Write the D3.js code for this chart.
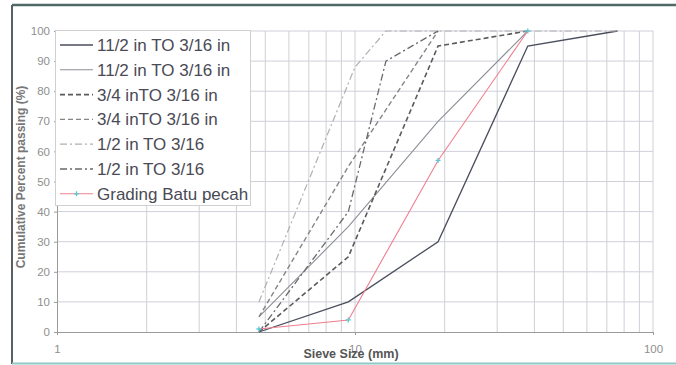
<!DOCTYPE html>
<html><head><meta charset="utf-8">
<script src="https://cdn.jsdelivr.net/npm/d3@7"></script>
<style>html,body{margin:0;padding:0;background:#fff;}svg{display:block;}</style>
</head><body>
<svg id="c" width="676" height="365"></svg>
<script>
// ---- data ----
const seriesNames = ["11/2 in TO 3/16 in","11/2 in TO 3/16 in","3/4 inTO 3/16 in","3/4 inTO 3/16 in","1/2 in TO 3/16","1/2 in TO 3/16","Grading Batu pecah"];
const s1Size = [4.76, 9.5, 19, 38, 76];   const s1Pass = [0, 10, 30, 95, 100];
const s2Size = [4.76, 9.5, 19, 38];       const s2Pass = [5, 35, 70, 100];
const s3Size = [4.76, 9.5, 19, 38];       const s3Pass = [0, 25, 95, 100];
const s4Size = [4.76, 9.5, 19];           const s4Pass = [5, 55, 100];
const s5Size = [4.76, 10, 12.7, 38, 76];  const s5Pass = [10, 88, 100, 100, 100];
const s6Size = [4.76, 9.5, 12.7, 19];     const s6Pass = [0, 40, 90, 100];
const s7Size = [4.76, 9.5, 19, 38];       const s7Pass = [1, 4, 57, 100];
const yTicks = [0,10,20,30,40,50,60,70,80,90,100];
const xTicks = [1,10,100];

const sizes = [s1Size,s2Size,s3Size,s4Size,s5Size,s6Size,s7Size];
const passes = [s1Pass,s2Pass,s3Pass,s4Pass,s5Pass,s6Pass,s7Pass];
const styles = [
  {c:"#4a4d5c", w:1.3, d:null},
  {c:"#8c8f96", w:1.1, d:null},
  {c:"#5a5a5a", w:1.6, d:"5,3"},
  {c:"#858585", w:1.4, d:"5,3"},
  {c:"#b0b0b0", w:1.2, d:"7,3,2,3"},
  {c:"#6a6a6a", w:1.3, d:"7,3,2,3"},
  {c:"#f07f8f", w:1.1, d:null}
];
const FONT = "Liberation Sans, Arial, sans-serif";

const svg = d3.select("#c");
const x = d3.scaleLog().domain([1,100]).range([57,653]);
const y = d3.scaleLinear().domain([0,100]).range([332,31]);

// frame
svg.append("line").attr("x1",12).attr("x2",676).attr("y1",5).attr("y2",5).attr("stroke","#4f6a66").attr("stroke-width",2.5);
svg.append("line").attr("x1",12).attr("x2",12).attr("y1",5).attr("y2",364).attr("stroke","#5a5f66").attr("stroke-width",2);
svg.append("line").attr("x1",12).attr("x2",676).attr("y1",363.5).attr("y2",363.5).attr("stroke","#8fc8c4").attr("stroke-width",2);

// grid
const minor = [];
[1,10].forEach(dec=>{for(let k=2;k<=9;k++) minor.push(k*dec);});
const g = svg.append("g");
g.selectAll(".vg").data(minor.concat([10,100])).enter().append("line")
  .attr("x1",d=>x(d)).attr("x2",d=>x(d)).attr("y1",y(100)).attr("y2",y(0))
  .attr("stroke","#cfd0d6").attr("stroke-width",1);
g.selectAll(".hg").data(yTicks.filter(d=>d>0)).enter().append("line")
  .attr("x1",x(1)).attr("x2",x(100)).attr("y1",d=>y(d)).attr("y2",d=>y(d))
  .attr("stroke","#cfd0da").attr("stroke-width",1);

// axes
const yAxis = d3.axisLeft(y).tickValues(yTicks).tickSize(3).tickPadding(4);
const ya = svg.append("g").attr("transform",`translate(${x(1)},0)`).call(yAxis);
const xAxis = d3.axisBottom(x).tickValues(xTicks).tickFormat(d3.format("d")).tickSize(3).tickPadding(10);
const xa = svg.append("g").attr("transform",`translate(0,${y(0)})`).call(xAxis);
[ya,xa].forEach(a=>{
  a.select(".domain").attr("stroke","#9a9a9a");
  a.selectAll(".tick line").attr("stroke","#9a9a9a");
  a.selectAll("text").attr("fill","#8f8f8f").style("font-family",FONT).style("font-size","11.5px");
});

// axis titles
svg.append("text").attr("transform","translate(25,177) rotate(-90)").attr("text-anchor","middle")
  .style("font-family",FONT).style("font-size","12px").style("font-weight","bold")
  .attr("fill","#777").text("Cumulative Percent passing (%)");
svg.append("text").attr("x",351).attr("y",358).attr("text-anchor","middle")
  .style("font-family",FONT).style("font-size","12.5px").style("font-weight","bold")
  .attr("fill","#555").text("Sieve Size (mm)");

// lines
const line = d3.line().x(d=>x(d[0])).y(d=>y(d[1]));
const plotG = svg.append("g");
sizes.forEach((sz,i)=>{
  const pts = sz.map((s,j)=>[s,passes[i][j]]);
  plotG.append("path").datum(pts).attr("d",line).attr("fill","none")
    .attr("stroke",styles[i].c).attr("stroke-width",styles[i].w)
    .attr("stroke-dasharray",styles[i].d);
});
// markers for grading
plotG.selectAll(".mk").data(s7Size.map((s,j)=>[s,s7Pass[j]])).enter().append("path")
  .attr("d",d=>`M${x(d[0])-2.5},${y(d[1])}h5M${x(d[0])},${y(d[1])-2.5}v5`)
  .attr("stroke","#5cc7d6").attr("stroke-width",1.3);

// legend
const lg = svg.append("g");
lg.append("rect").attr("x",55.5).attr("y",30.5).attr("width",195).attr("height",175).attr("fill","#fff").attr("stroke","#d0d0d0");
seriesNames.forEach((n,i)=>{
  const ly = 45 + i*24.8;
  lg.append("line").attr("x1",60).attr("x2",93).attr("y1",ly).attr("y2",ly)
    .attr("stroke",styles[i].c).attr("stroke-width",styles[i].w).attr("stroke-dasharray",styles[i].d);
  if(i===6) lg.append("path").attr("d",`M74,${ly}h5M76.5,${ly-2.5}v5`).attr("stroke","#5cc7d6").attr("stroke-width",1.3);
  lg.append("text").attr("x",97).attr("y",ly+6).text(n)
    .style("font-family",FONT).style("font-size","17px").attr("fill","#4a4a55");
});
</script>
</body></html>
